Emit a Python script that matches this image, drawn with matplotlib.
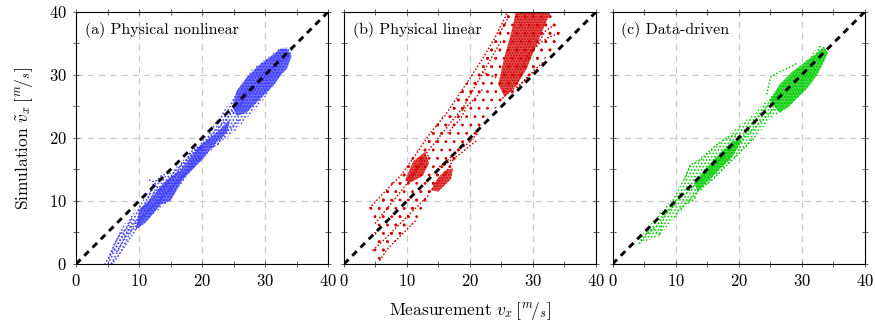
import matplotlib
matplotlib.use('Agg')
import matplotlib.pyplot as plt
from matplotlib.ticker import MultipleLocator

plt.rcParams['font.family'] = 'serif'
plt.rcParams['font.serif'] = ['cmr10']
plt.rcParams['mathtext.fontset'] = 'cm'
plt.rcParams['axes.formatter.use_mathtext'] = True
plt.rcParams['hatch.linewidth'] = 0.8

# panel titles and colours
titles = ['(a) Physical nonlinear', '(b) Physical linear', '(c) Data-driven']
colors = ['#3838ff', '#d40000', '#00cc00']
ticks = [0, 10, 20, 30, 40]

# --- (a) physical nonlinear: measured / simulated, read off the cloud ---
band_a = [
    ([4.8, 7.0, 10.2, 12.3, 15.0, 18.0, 20.0, 22.5, 25.0, 28.0, 32.4, 34.5,
      33.5, 29.7, 25.5, 23.4, 19.2, 14.4, 9.1, 6.0],
     [0.0, 5.4, 9.5, 12.8, 14.5, 17.5, 19.5, 23.0, 26.5, 31.0, 34.3, 34.5,
      31.5, 26.0, 21.3, 19.7, 16.0, 9.6, 5.4, 0.0]),
]
dense_a = [
    ([10.0, 12.0, 14.0, 16.5, 19.0, 21.0, 23.0, 24.5, 24.0, 22.0, 20.0, 17.0, 15.0, 13.5, 11.0, 9.5],
     [8.6, 10.5, 13.0, 14.8, 18.0, 19.8, 21.5, 23.0, 21.0, 19.0, 16.5, 13.5, 10.0, 9.5, 6.5, 5.5]),
    ([24.8, 25.5, 27.0, 29.0, 31.0, 32.5, 33.5, 34.2, 33.5, 32.5, 31.5, 30.0, 28.5, 27.0, 25.5],
     [25.0, 27.5, 29.5, 31.5, 33.0, 34.2, 34.2, 33.0, 31.0, 30.0, 28.5, 27.0, 25.5, 24.0, 23.5]),
]
traj_a = [
    ([4.6, 5.5, 6.5, 7.5, 8.5, 9.5], [0.0, 1.5, 3.0, 4.5, 5.5, 7.0]),
    ([5.6, 6.5, 7.5, 8.5, 9.5, 10.5], [0.0, 1.0, 2.5, 4.0, 5.5, 6.5]),
    ([5.2, 6.0, 7.0, 8.0, 9.0], [1.0, 3.0, 4.8, 5.5, 7.5]),
    ([6.5, 8.0, 9.5, 11.0, 12.5], [2.0, 4.5, 6.0, 8.0, 9.5]),
    ([9.5, 11.0, 12.5, 14.0, 15.5, 17.0, 18.5, 20.0], [6.5, 8.0, 9.5, 11.0, 12.5, 14.0, 15.5, 17.0]),
    ([10.0, 11.5, 12.5, 14.0, 15.5, 17.0, 18.5, 20.0, 21.5], [8.5, 9.5, 11.5, 12.5, 14.5, 16.0, 17.5, 19.0, 20.0]),
    ([11.5, 12.3, 13.5, 15.0, 16.5, 18.0, 19.5], [10.5, 12.8, 11.5, 13.5, 15.0, 17.0, 18.5]),
    ([11.7, 12.5, 13.5, 15.0], [13.3, 13.0, 14.0, 14.5]),
    ([13.5, 14.5, 15.5, 16.5, 17.5], [10.5, 11.5, 12.5, 13.5, 14.5]),
    ([17.0, 18.0, 19.0, 20.0], [14.0, 15.5, 16.5, 18.0]),
    ([18.0, 19.0, 20.0, 21.0], [17.5, 18.5, 18.3, 19.5]),
    ([21.5, 22.5, 23.5, 24.5, 25.5, 26.0], [18.5, 19.0, 20.5, 21.5, 22.5, 23.0]),
    ([19.0, 20.5, 22.0, 23.5, 25.0], [17.5, 19.5, 21.0, 22.5, 24.5]),
    ([25.0, 27.0, 29.0, 31.0, 33.0], [24.0, 26.5, 28.5, 31.0, 33.0]),
    ([26.0, 28.0, 30.0, 32.0, 34.0], [26.5, 28.0, 30.5, 31.5, 33.5]),
]

# --- (b) physical linear ---
band_b = [
    ([4.1, 9.0, 13.7, 18.0, 21.9, 25.9, 32.8, 34.3, 33.5, 30.5, 25.0, 22.0,
      20.0, 17.0, 13.5, 11.5, 8.5, 5.7],
     [8.9, 14.0, 20.8, 26.5, 32.4, 39.8, 40.0, 36.7, 34.5, 31.0, 25.5, 23.0,
      19.5, 15.5, 11.0, 7.0, 4.0, 0.6]),
    ([4.1, 9.0, 13.7, 18.0, 21.9, 25.9, 27.3, 24.5, 21.0, 17.0, 13.5, 9.0, 5.0],
     [9.0, 14.5, 20.8, 26.5, 32.4, 39.8, 40.0, 33.0, 27.0, 21.5, 17.5, 12.5, 7.5]),
    ([4.6, 8.0, 12.0, 15.0, 18.0, 22.0, 22.3, 19.0, 16.0, 13.0, 10.0, 7.0, 5.7],
     [2.2, 7.5, 11.5, 15.0, 18.5, 23.5, 22.0, 18.0, 14.0, 10.0, 6.0, 2.0, 0.3]),
    ([24.0, 27.0, 30.0, 32.8, 34.3, 33.5, 30.5, 27.5, 25.0],
     [30.0, 34.0, 38.0, 40.0, 36.7, 34.5, 31.0, 27.5, 25.5]),
]
dense_b = [
    ([24.5, 25.5, 26.5, 27.3, 32.8, 31.5, 30.0, 29.0, 27.5, 25.5],
     [28.5, 33.0, 36.5, 40.0, 40.0, 37.0, 33.5, 31.0, 28.5, 26.5]),
    ([9.7, 11.0, 12.9, 13.5, 12.5, 10.5],
     [13.3, 16.3, 17.8, 16.0, 14.0, 12.9]),
    ([13.8, 14.8, 16.0, 17.3, 17.0, 15.0],
     [11.7, 13.5, 14.8, 15.2, 13.5, 11.5]),
]
traj_b = [
    ([4.1, 6.5, 9.0, 11.5, 13.7, 16.0, 18.0, 20.0, 21.9, 24.0, 25.9], [8.9, 11.5, 14.0, 17.5, 20.8, 23.5, 26.5, 29.5, 32.4, 36.0, 39.8]),
    ([5.0, 7.0, 9.0, 11.0, 13.0, 15.0, 17.0, 19.0, 21.0, 23.0, 25.0], [6.5, 9.0, 11.5, 14.0, 17.5, 20.0, 22.5, 25.0, 28.5, 32.0, 35.5]),
    ([4.6, 6.0, 7.5, 9.0, 10.5, 12.0, 13.5], [2.2, 3.5, 5.0, 6.5, 8.0, 9.5, 11.0]),
    ([5.7, 7.0, 8.5, 10.0, 11.5], [0.6, 2.5, 4.0, 5.5, 7.0]),
    ([10.0, 11.0, 12.0, 13.0, 13.5], [13.5, 14.5, 15.5, 16.5, 17.5]),
    ([13.7, 14.5, 15.5, 16.5, 17.3], [11.5, 12.5, 13.5, 15.0, 16.5]),
    ([15.6, 17.0, 18.5, 20.0, 21.3], [15.4, 16.5, 17.5, 18.8, 19.7]),
    ([15.2, 16.5, 18.0, 19.5, 21.0, 21.6], [15.5, 16.5, 18.0, 19.0, 20.5, 21.7]),
    ([16.5, 17.5, 18.5, 19.2], [20.8, 22.0, 23.0, 24.4]),
    ([18.8, 20.0, 21.0, 21.9], [24.4, 25.5, 26.5, 27.6]),
    ([28.0, 29.5, 31.0, 32.5, 34.3], [31.0, 33.5, 35.0, 36.0, 36.7]),
    ([24.8, 26.5, 28.0, 29.5], [26.0, 27.5, 28.5, 30.0]),
    ([27.5, 29.0, 30.5, 31.6], [28.0, 29.5, 31.0, 32.0]),
    ([29.0, 30.5, 32.0, 33.5], [33.0, 34.5, 37.0, 38.0]),
    ([22.0, 23.0, 24.3], [30.5, 30.0, 29.5]),
    ([24.8, 25.5, 26.3], [36.8, 38.0, 39.5]),
]

# --- (c) data-driven ---
band_c = [
    ([4.3, 7.0, 10.0, 12.3, 16.0, 19.0, 22.0, 24.5, 27.0, 30.0, 33.0,
      34.2, 31.0, 28.0, 25.0, 22.3, 18.0, 14.0, 12.0, 10.0, 7.5, 4.6],
     [4.0, 7.5, 11.0, 15.7, 18.5, 21.0, 23.5, 26.0, 28.5, 31.5, 34.8,
      33.5, 28.0, 25.0, 23.0, 19.5, 15.5, 11.5, 9.5, 7.5, 4.5, 3.3]),
]
dense_c = [
    ([25.0, 26.5, 28.5, 30.5, 32.5, 33.5, 34.2, 33.5, 32.5, 31.0, 29.5, 28.0, 26.5],
     [26.0, 28.5, 30.5, 32.0, 33.5, 34.5, 33.5, 32.0, 30.0, 28.0, 26.5, 25.0, 24.0]),
    ([13.0, 16.0, 19.0, 20.5, 19.0, 16.0, 13.5],
     [13.0, 16.5, 19.5, 19.5, 17.0, 14.0, 11.5]),
]
traj_c = [
    ([4.3, 5.5, 7.0, 8.5, 10.0], [3.3, 5.0, 6.0, 8.0, 9.5]),
    ([5.7, 6.5, 7.5, 7.9], [4.9, 5.5, 4.5, 7.0]),
    ([9.9, 10.5, 11.5, 12.5, 13.4], [7.5, 8.5, 9.5, 10.0, 10.7]),
    ([10.0, 12.0, 14.0, 16.0, 18.0, 20.0, 22.0], [10.0, 11.5, 13.5, 15.5, 17.5, 19.5, 21.5]),
    ([12.0, 14.0, 16.0, 18.0, 20.0, 22.3], [10.0, 12.0, 13.5, 15.5, 17.5, 19.9]),
    ([11.5, 12.3, 14.0, 16.0, 18.0, 19.5], [13.5, 15.7, 16.5, 18.5, 20.0, 20.5]),
    ([20.0, 21.5, 23.0, 24.5, 26.0], [19.0, 20.5, 22.0, 23.5, 25.0]),
    ([21.0, 22.5, 24.0, 25.5, 27.0], [21.0, 22.5, 24.5, 26.0, 27.5]),
    ([24.5, 25.1, 26.5, 28.3, 29.5], [27.0, 29.7, 30.5, 31.3, 32.0]),
]

panels = [(band_a, dense_a, traj_a), (band_b, dense_b, traj_b), (band_c, dense_c, traj_c)]
band_hatch = ['.....', '..', '.....']

fig = plt.figure(figsize=(8.75, 3.24), dpi=100)
lefts = [0.0869, 0.3931, 0.700]

for i, (bands, dense, traj) in enumerate(panels):
    ax = fig.add_axes([lefts[i], 0.1852, 0.288, 0.7778])
    c = colors[i]
    ax.grid(True, which='major', color='#c8c8c8', linestyle=(0, (5, 4)), lw=0.9)
    ax.set_axisbelow(True)
    for band in bands:
        ax.fill(band[0], band[1], facecolor='none', edgecolor=c, hatch=band_hatch[i],
                lw=0, zorder=2)
    for poly in dense:
        ax.fill(poly[0], poly[1], facecolor=c, alpha=0.7, lw=0, zorder=2)
        ax.fill(poly[0], poly[1], facecolor='none', edgecolor=c, hatch='......',
                lw=0, zorder=2)
    for m, s in traj:
        ax.plot(m, s, color=c, lw=1.2, linestyle=(0, (0.1, 2.0)),
                dash_capstyle='round', zorder=3)
    ax.plot([0, 40], [0, 40], color='black', lw=2.1, linestyle=(0, (2.2, 1.8)), zorder=4)
    ax.set_xlim(0, 40)
    ax.set_ylim(0, 40)
    ax.set_xticks(ticks)
    ax.set_yticks(ticks)
    ax.xaxis.set_minor_locator(MultipleLocator(5))
    ax.yaxis.set_minor_locator(MultipleLocator(5))
    ax.tick_params(which='both', direction='inout', top=True, right=True,
                   length=5, width=0.6, color='#444444', labelsize=12, pad=4)
    if i > 0:
        ax.tick_params(labelleft=False)
    ax.text(0.035, 0.93, titles[i], transform=ax.transAxes, ha='left', va='center',
            fontsize=11.5)
    for sp in ax.spines.values():
        sp.set_linewidth(0.8)
    if i == 0:
        ax.set_ylabel(r'Simulation $\tilde{v}_x\,[{}^{m}\!/{}_{s}]$', fontsize=12.5, labelpad=10)
    if i == 1:
        ax.set_xlabel(r'Measurement $v_x\,[{}^{m}\!/{}_{s}]$', fontsize=12.5, labelpad=8)

fig.savefig('out.png', dpi=100)
